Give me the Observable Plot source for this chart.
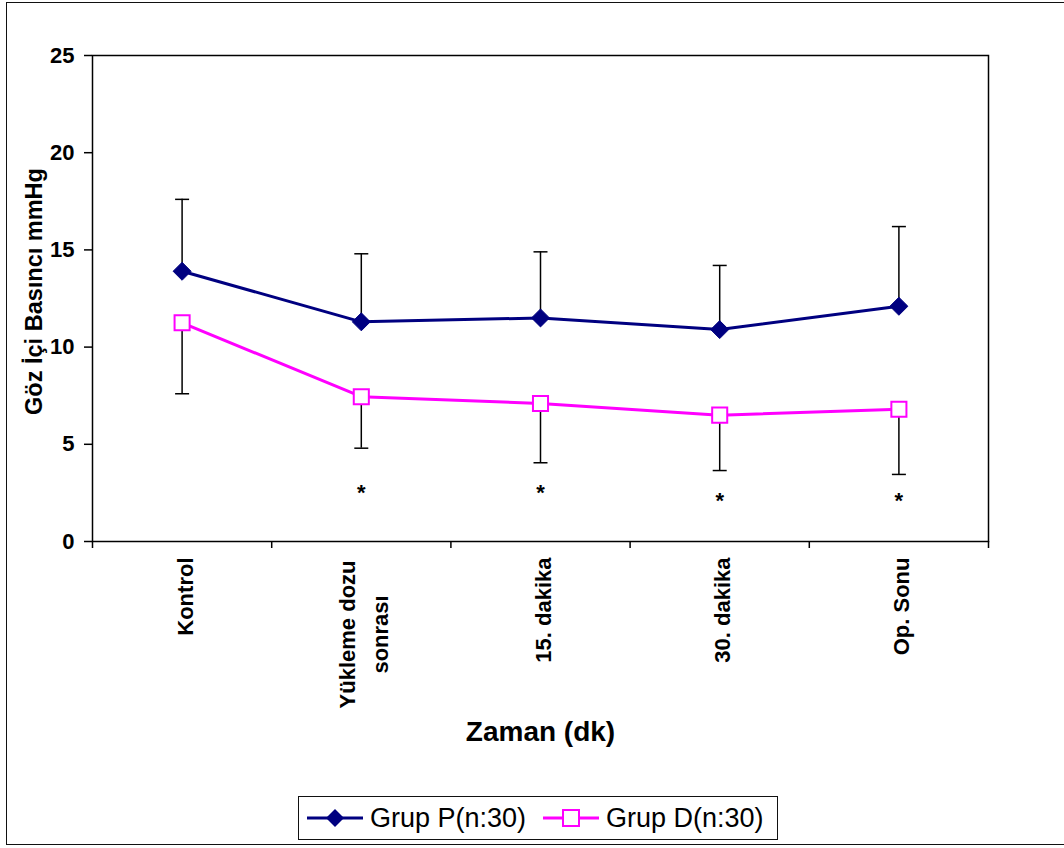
<!DOCTYPE html>
<html>
<head>
<meta charset="utf-8">
<script src="https://cdn.jsdelivr.net/npm/d3@7"></script>
<script src="https://cdn.jsdelivr.net/npm/@observablehq/plot@0.6"></script>
<style>
  body { margin: 0; background: #fff; overflow: hidden; font-family: "Liberation Sans", Arial, sans-serif; }
  #wrap { position: relative; width: 1064px; height: 848px; overflow: hidden; }
  #outer { position: absolute; left: 6px; top: 2px; width: 1100px; height: 841px; border: 1.5px solid #111; pointer-events: none; }
  #chart svg { display: block; }
  #legend { position: relative; margin-left: 298px; margin-top: 6px; width: 478px; height: 42px; border: 1.5px solid #111; box-sizing: content-box; }
  .item { position: absolute; top: 0; height: 42px; display: flex; align-items: center; font-size: 27px; color: #000; }
  .item svg { display: block; margin-right: 7px; }
</style>
</head>
<body>
<div id="wrap">
  <div id="chart"></div>
  <div id="legend"></div>
  <div id="outer"></div>
</div>
<script>
// ---- data ----
const categories = ["Kontrol", "Yükleme dozu\nsonrası", "15. dakika", "30. dakika", "Op. Sonu"];
const grupP   = [13.9, 11.3, 11.5, 10.9, 12.1];
const grupPsd = [3.7, 3.5, 3.4, 3.3, 4.1];
const grupD   = [11.25, 7.45, 7.1, 6.5, 6.8];
const grupDsd = [3.65, 2.65, 3.05, 2.85, 3.35];
const sigLabels = ["", "*", "*", "*", "*"];
const sigLevel  = [null, 2.5, 2.5, 2.1, 2.1];
const yTicks = [0, 5, 10, 15, 20, 25];
const seriesNames = ["Grup P(n:30)", "Grup D(n:30)"];
const colorP = "#000080", colorD = "#ff00ff";

const rowsP = categories.map((c, i) => ({i: i + 0.5, mean: grupP[i], end: grupP[i] + grupPsd[i]}));
const rowsD = categories.map((c, i) => ({i: i + 0.5, mean: grupD[i], end: grupD[i] - grupDsd[i]}));
const sig = categories.map((c, i) => ({i: i + 0.5, s: sigLabels[i], y: sigLevel[i]})).filter(d => d.s);

const capSymbol = {draw(ctx, size) { const r = Math.sqrt(size / Math.PI); ctx.moveTo(-r, 0); ctx.lineTo(r, 0); }};

const FONT = '"Liberation Sans", Arial, sans-serif';
const xFont = 22;
const cv = document.createElement("canvas").getContext("2d");
cv.font = `bold ${xFont}px "Liberation Sans"`;
const textW = s => cv.measureText(s).width;

const xLabelMarks = categories.map((c, i) => {
  const lines = c.split("\n");
  const multi = lines.length > 1;
  const maxW = Math.max(...lines.map(textW));
  return Plot.text([c], {
    x: () => i + 0.5, text: d => d, frameAnchor: "bottom", rotate: -90,
    textAnchor: multi ? "middle" : "end", lineAnchor: "middle", lineHeight: 1.5,
    dy: multi ? 19 + maxW / 2 : 16, fontSize: xFont, fontWeight: "bold", fill: "#000"
  });
});

const chart = Plot.plot({
  width: 1064, height: 790,
  marginLeft: 92, marginRight: 76, marginTop: 55, marginBottom: 249,
  style: {fontFamily: FONT, fontSize: "22px", fontWeight: "bold", color: "#000", background: "transparent"},
  x: {domain: [0, 5]},
  y: {domain: [0, 25]},
  marks: [
    Plot.frame({stroke: "#000", strokeWidth: 1.5}),
    Plot.axisY({ticks: yTicks, tickSize: 8, tickPadding: 10, strokeWidth: 1.5, label: null, fontSize: 22, fontWeight: "bold"}),
    Plot.axisX({ticks: [0, 1, 2, 3, 4, 5], tickSize: 7, tickFormat: () => "", strokeWidth: 1.5, label: null}),
    ...xLabelMarks,
    Plot.text(["Göz İçi Basıncı mmHg"], {frameAnchor: "left", textAnchor: "middle", lineAnchor: "middle", rotate: -90, dx: -58, dy: -7, fontSize: 23.5, fontWeight: "bold", fill: "#000"}),
    Plot.text(["Zaman (dk)"], {frameAnchor: "bottom", dy: 199, fontSize: 28, fontWeight: "bold", fill: "#000"}),
    Plot.line(rowsP, {x: "i", y: "mean", stroke: colorP, strokeWidth: 3}),
    Plot.line(rowsD, {x: "i", y: "mean", stroke: colorD, strokeWidth: 3}),
    Plot.ruleX(rowsP, {x: "i", y1: "mean", y2: "end", stroke: "#000", strokeWidth: 1.5}),
    Plot.ruleX(rowsD, {x: "i", y1: "mean", y2: "end", stroke: "#000", strokeWidth: 1.5}),
    Plot.dot(rowsP, {x: "i", y: "end", symbol: capSymbol, r: 7, stroke: "#000", strokeWidth: 1.5, fill: "none"}),
    Plot.dot(rowsD, {x: "i", y: "end", symbol: capSymbol, r: 7, stroke: "#000", strokeWidth: 1.5, fill: "none"}),
    Plot.dot(rowsP, {x: "i", y: "mean", symbol: "diamond2", r: 8.1, fill: colorP, stroke: colorP, strokeWidth: 1}),
    Plot.dot(rowsD, {x: "i", y: "mean", symbol: "square", r: 8.5, fill: "#fff", stroke: colorD, strokeWidth: 2}),
    Plot.text(sig, {x: "i", y: "y", text: "s", fontSize: 22, fontWeight: "bold", fill: "#000"})
  ]
});
document.getElementById("chart").appendChild(chart);

// ---- legend ----
const legend = d3.select("#legend");
const items = [
  {name: seriesNames[0], color: colorP, sym: "diamond", left: 8},
  {name: seriesNames[1], color: colorD, sym: "square", left: 244}
];
for (const it of items) {
  const div = legend.append("div").attr("class", "item").style("left", it.left + "px");
  const svg = div.append("svg").attr("width", 56).attr("height", 24);
  svg.append("line").attr("x1", 0).attr("x2", 56).attr("y1", 12).attr("y2", 12)
    .attr("stroke", it.color).attr("stroke-width", 3);
  if (it.sym === "diamond") {
    svg.append("path").attr("d", "M28,3L37,12L28,21L19,12Z").attr("fill", it.color);
  } else {
    svg.append("rect").attr("x", 20).attr("y", 4).attr("width", 16).attr("height", 16)
      .attr("fill", "#fff").attr("stroke", it.color).attr("stroke-width", 2);
  }
  div.append("span").text(it.name);
}
</script>
</body>
</html>
